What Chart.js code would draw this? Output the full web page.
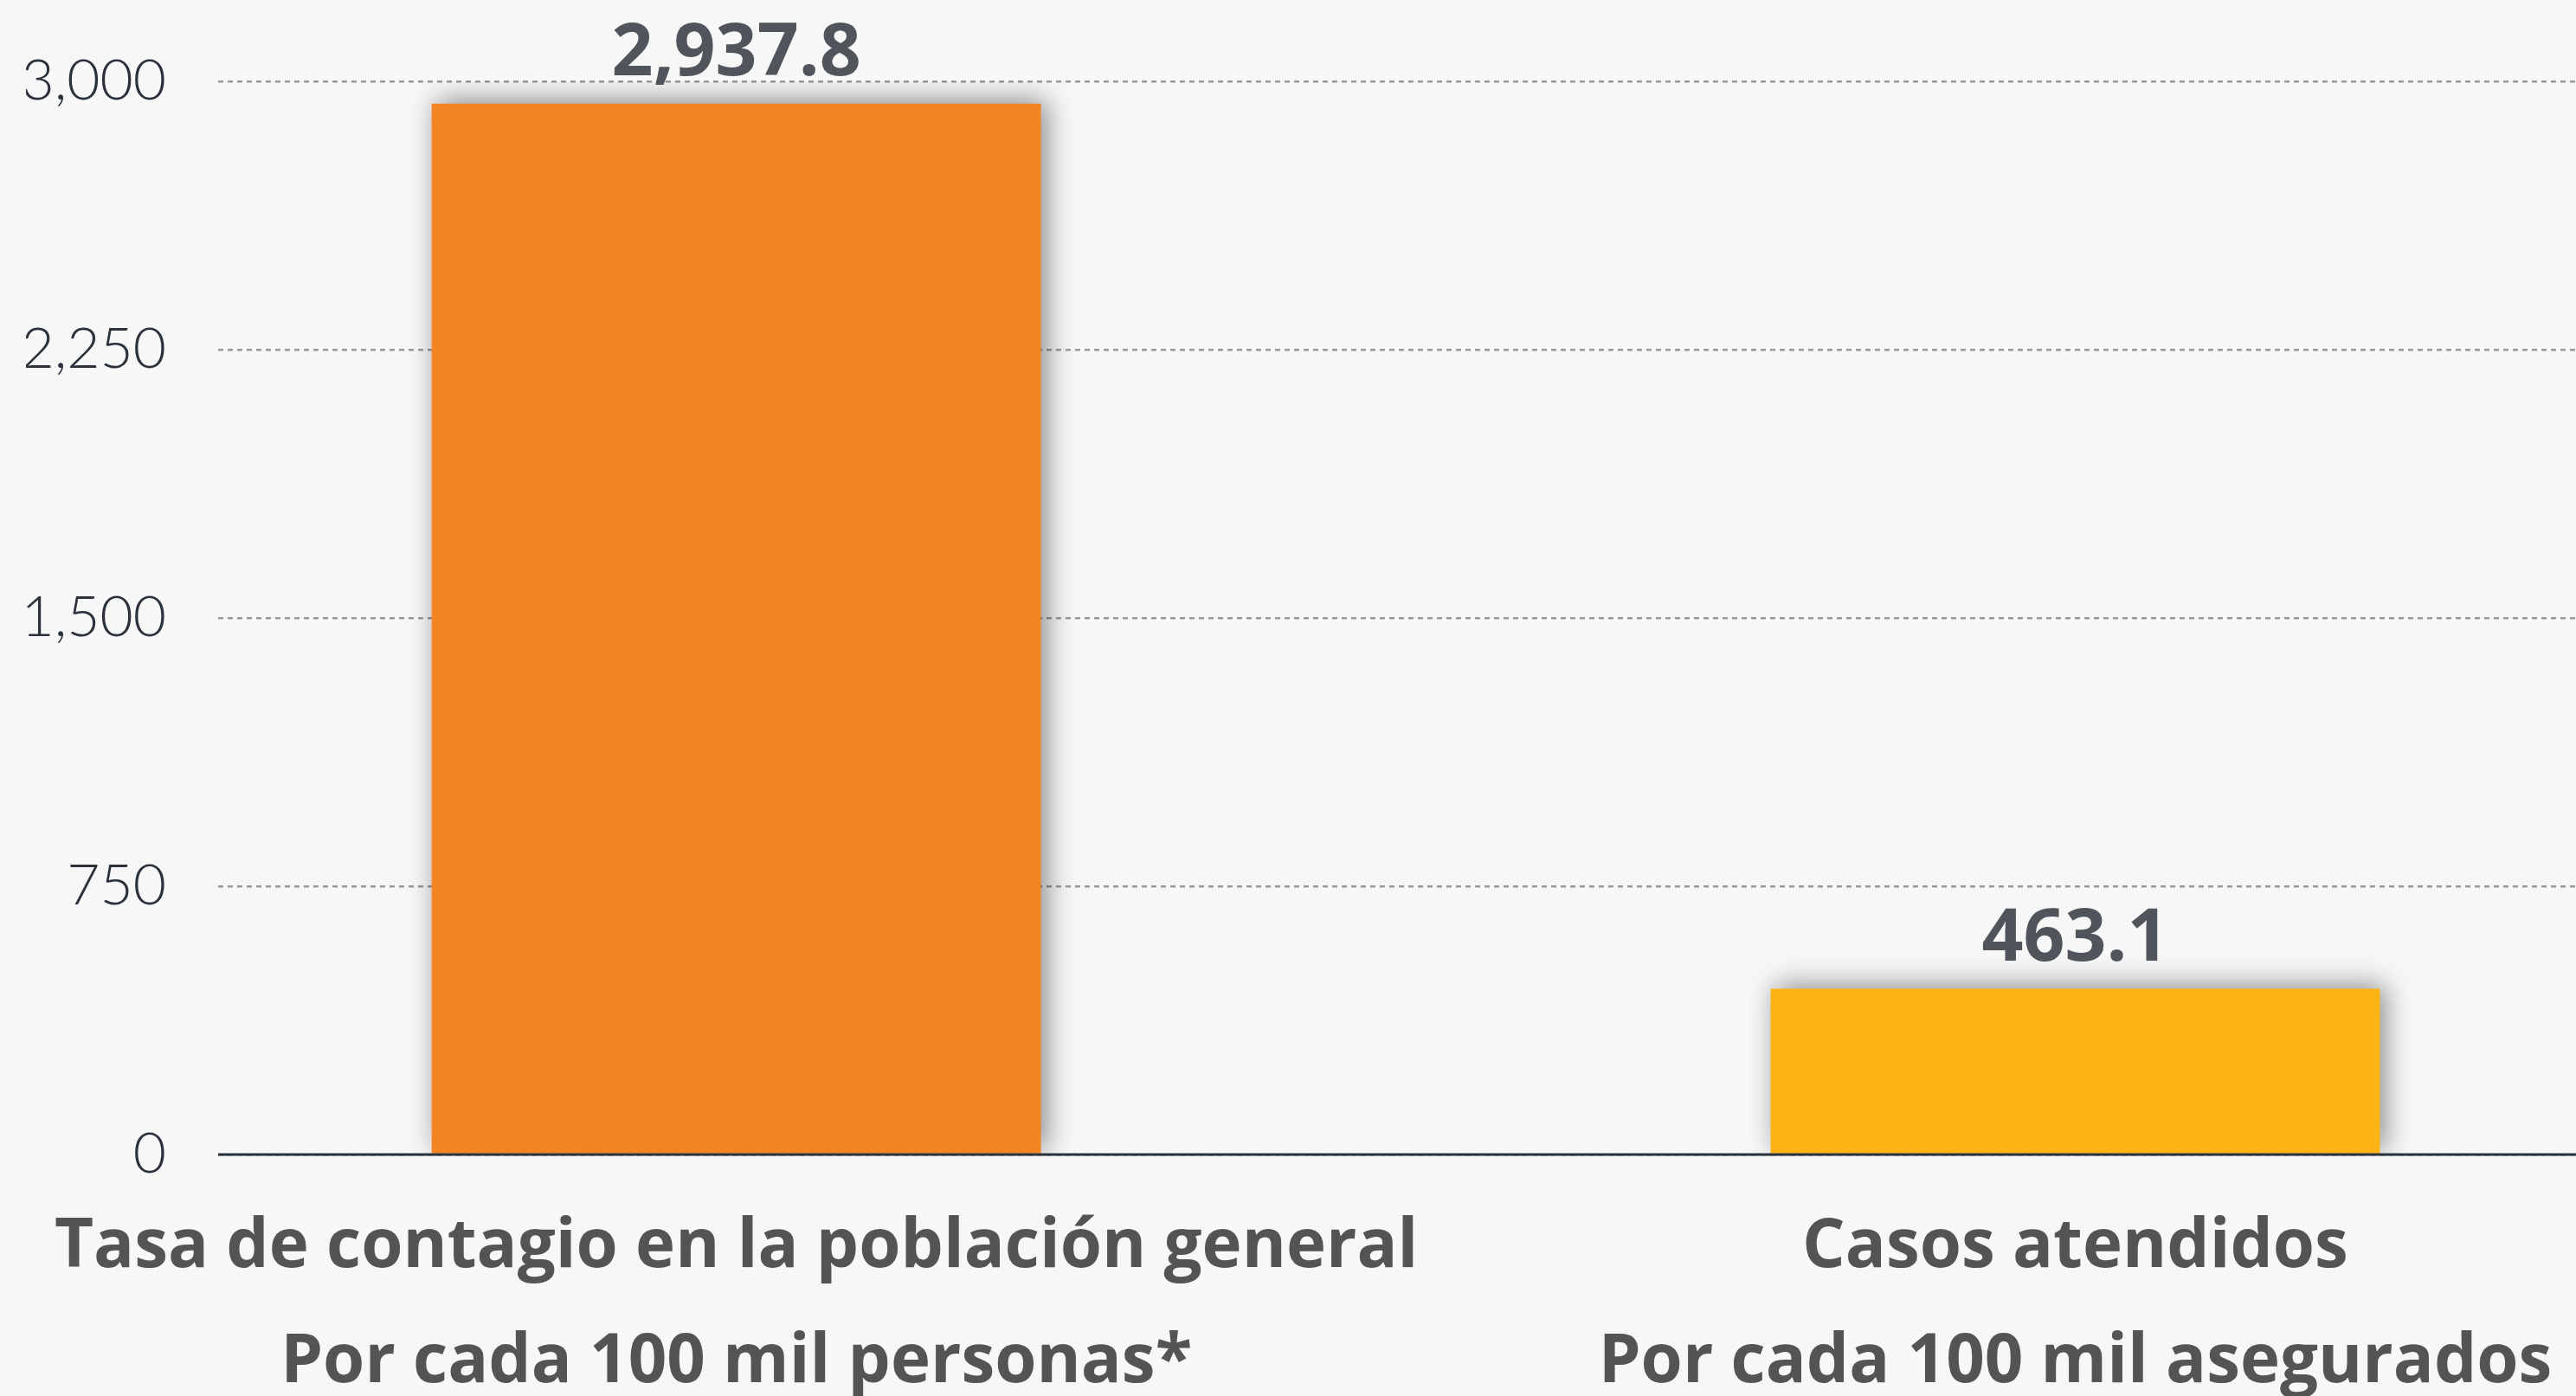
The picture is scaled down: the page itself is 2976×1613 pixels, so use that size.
<!DOCTYPE html>
<html>
<head>
<meta charset="utf-8">
<script src="https://cdn.jsdelivr.net/npm/chart.js@4.4.1/dist/chart.umd.min.js"></script>
<style>
  body { margin: 0; background: #f7f7f7; }
  canvas { display: block; }
</style>
</head>
<body>
<canvas id="rates" width="2976" height="1613"></canvas>
<script>
const categories = [
    ["Tasa de contagio en la población general", "Por cada 100 mil personas*"],
    ["Casos atendidos", "Por cada 100 mil asegurados"]
];
const values = [2937.8, 463.1];
const colors = ["#f28423", "#fbb414"];
const yTicks = [0, 750, 1500, 2250, 3000];

const fmt = (v, d) => v.toLocaleString("en-US", { minimumFractionDigits: d, maximumFractionDigits: d });

const labelFont = "Open Sans";

const ctx = document.getElementById("rates").getContext("2d");

const chart = new Chart(ctx, {
    type: "bar",
    data: {
        datasets: [{
            data: values.map((v, i) => ({ x: i, y: v })),
            backgroundColor: colors,
            borderWidth: 0,
            barPercentage: 0.91,
            categoryPercentage: 0.5
        }]
    },
    options: {
        responsive: false,
        animation: false,
        layout: { autoPadding: false, padding: { left: 30, top: 94, right: 0, bottom: 0 } },
        plugins: {
            legend: { display: false },
            tooltip: { enabled: false }
        },
        scales: {
            x: {
                type: "linear",
                offset: false,
                min: -0.387,
                max: 1.374,
                afterBuildTicks: (scale) => {
                    scale.ticks = categories.map((c, i) => ({ value: i }));
                },
                afterFit: (scale) => {
                    // fixed axis band, labels may run under the y axis
                    scale.height = 279;
                    scale.paddingLeft = 0;
                    scale.paddingRight = 0;
                },
                grid: { display: false, drawTicks: false, offset: false },
                border: { display: false },
                ticks: {
                    autoSkip: false,
                    maxRotation: 0,
                    minRotation: 0,
                    padding: 41,
                    color: "#545454",
                    font: { family: labelFont, weight: "bold", size: 78, lineHeight: 1.71 },
                    callback: (value) => categories[value]
                }
            },
            y: {
                min: 0,
                max: 3000,
                afterBuildTicks: (scale) => {
                    scale.ticks = yTicks.map(v => ({ value: v }));
                },
                afterFit: (scale) => {
                    scale.width = 222;
                    scale.paddingTop = 0;
                    scale.paddingBottom = 0;
                },
                grid: {
                    color: "#999999",
                    lineWidth: 2.5,
                    drawTicks: false
                },
                border: { display: false, dash: [6, 5] },
                ticks: {
                    padding: 60,
                    color: "#2b323c",
                    font: { family: "Lato", weight: 300, size: 66 },
                    callback: (value) => fmt(value, 0)
                }
            }
        }
    },
    plugins: [{
        id: "background",
        beforeDraw: function (chart) {
            const c = chart.ctx;
            c.save();
            c.fillStyle = "#f7f7f7";
            c.fillRect(0, 0, chart.width, chart.height);
            c.restore();
        }
    }, {
        id: "zeroLine",
        afterDraw: function (chart) {
            // solid baseline at zero
            const c = chart.ctx;
            const y0 = chart.scales.y.getPixelForValue(0);
            c.save();
            c.strokeStyle = "#2b323c";
            c.lineWidth = 3;
            c.beginPath();
            c.moveTo(chart.chartArea.left, y0);
            c.lineTo(chart.chartArea.right, y0);
            c.stroke();
            c.restore();
        },
        beforeDatasetsDraw: function (chart) {
            // soft drop shadow behind the bars
            const c = chart.ctx;
            c.save();
            c.shadowColor = "rgba(0,0,0,0.45)";
            c.shadowBlur = 30;
            c.shadowOffsetX = 6;
            c.shadowOffsetY = -4;
        },
        afterDatasetsDraw: function (chart) {
            const c = chart.ctx;
            c.restore();
            // value labels above bars
            c.save();
            c.font = "bold 84px '" + labelFont + "'";
            c.fillStyle = "#50555b";
            c.textAlign = "center";
            c.textBaseline = "alphabetic";
            chart.getDatasetMeta(0).data.forEach((bar, i) => {
                c.fillText(fmt(values[i], 1), bar.x, bar.y - 33);
            });
            c.restore();
        }
    }]
});
</script>
</body>
</html>
